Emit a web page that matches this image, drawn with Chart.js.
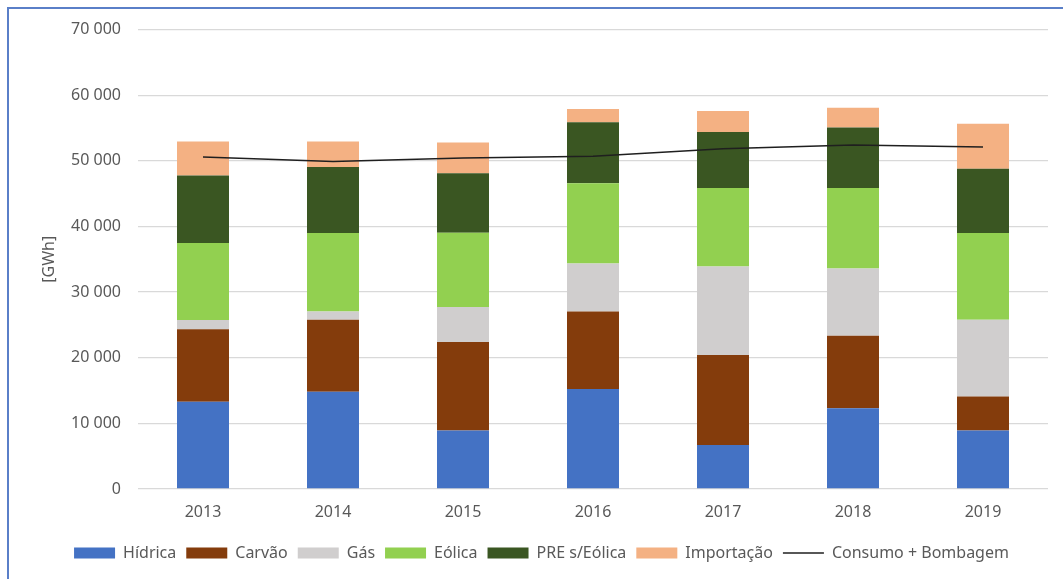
<!DOCTYPE html>
<html lang="pt">
<head>
    <meta charset="UTF-8">
    <title>Produção por fonte</title>
    <script src="https://cdn.jsdelivr.net/npm/chart.js"></script>
    <style>
        html, body {
            margin: 0;
            padding: 0;
            overflow: hidden;
            background: #fff;
        }
        #frame {
            position: absolute;
            left: 7px;
            top: 7px;
            width: 1054px;
            height: 570px;
            border-left: 2px solid #5a7fc8;
            border-top: 2px solid #5a7fc8;
        }
        /* y tick padding pushes the chart area down, pull the canvas back up */
        #energyChart {
            display: block;
            margin-top: -6px;
        }
    </style>
</head>
<body>
    <div id="frame">
        <canvas id="energyChart" width="1039" height="576"></canvas>
    </div>

    <script>
        // Valores (GWh)
        const years = ['2013', '2014', '2015', '2016', '2017', '2018', '2019'];
        const hidrica = [13300, 14800, 8900, 15250, 6700, 12300, 8900];
        const carvao = [11050, 11000, 13500, 11800, 13700, 11050, 5200];
        const gas = [1400, 1250, 5350, 7300, 13500, 10250, 11700];
        const eolica = [11750, 11950, 11300, 12250, 11950, 12250, 13200];
        const preSemEolica = [10250, 10050, 9050, 9300, 8550, 9250, 9800];
        const importacao = [5200, 3900, 4700, 2000, 3200, 3000, 6850];
        const consumoBombagem = [50600, 49900, 50450, 50700, 51850, 52400, 52100];

        const yTicks = [0, 10000, 20000, 30000, 40000, 50000, 60000, 70000];

        const tickColor = '#595959';
        const fontFamily = '"Noto Sans", "Open Sans", sans-serif';

        function bar(label, data, color) {
            return {
                type: 'bar',
                label: label,
                data: data,
                backgroundColor: color,
                borderWidth: 0,
                stack: 'fontes',
                barPercentage: 0.4,
                categoryPercentage: 1.0,
                order: 2
            };
        }

        function formatThousands(v) {
            return v.toString().replace(/\B(?=(\d{3})+(?!\d))/g, ' ');
        }

        const ctx = document.getElementById('energyChart').getContext('2d');

        new Chart(ctx, {
            data: {
                labels: years,
                datasets: [
                    bar('Hídrica', hidrica, '#4472C4'),
                    bar('Carvão', carvao, '#843C0C'),
                    bar('Gás', gas, '#D0CECE'),
                    bar('Eólica', eolica, '#92D050'),
                    bar('PRE s/Eólica', preSemEolica, '#3A5622'),
                    bar('Importação', importacao, '#F4B183'),
                    {
                        type: 'line',
                        label: 'Consumo + Bombagem',
                        data: consumoBombagem,
                        borderColor: '#1f1f1f',
                        backgroundColor: '#1f1f1f',
                        borderWidth: 1.5,
                        pointRadius: 0,
                        tension: 0,
                        stack: 'consumo',
                        order: 1
                    }
                ]
            },
            options: {
                responsive: false,
                animation: false,
                layout: {
                    padding: { left: 26, right: 0, top: 11, bottom: 8 }
                },
                scales: {
                    x: {
                        stacked: true,
                        grid: { display: false },
                        border: { display: false },
                        ticks: {
                            color: tickColor,
                            padding: 6,
                            font: { family: fontFamily, size: 16 }
                        },
                        afterFit: (scale) => { scale.height = 46; }
                    },
                    y: {
                        stacked: true,
                        min: 0,
                        max: 70000,
                        afterBuildTicks: (scale) => {
                            scale.ticks = yTicks.map(v => ({ value: v }));
                        },
                        grid: {
                            color: '#D9D9D9',
                            lineWidth: 1.3,
                            drawTicks: false
                        },
                        border: { display: false },
                        ticks: {
                            color: tickColor,
                            padding: 17,
                            font: { family: fontFamily, size: 16 },
                            callback: (v) => formatThousands(v)
                        },
                        title: {
                            display: true,
                            text: '[GWh]',
                            color: tickColor,
                            font: { family: fontFamily, size: 16 },
                            padding: { top: 5, bottom: 0 }
                        },
                        afterFit: (scale) => { scale.width = 103; }
                    }
                },
                plugins: {
                    legend: {
                        position: 'bottom',
                        labels: {
                            usePointStyle: true,
                            pointStyleWidth: 41,
                            boxHeight: 11,
                            padding: 10,
                            color: tickColor,
                            font: { family: fontFamily, size: 16 },
                            sort: (a, b) => a.datasetIndex - b.datasetIndex,
                            generateLabels: (chart) => {
                                const items = Chart.defaults.plugins.legend.labels.generateLabels(chart);
                                items.forEach(item => {
                                    const ds = chart.data.datasets[item.datasetIndex];
                                    item.pointStyle = ds.type === 'line' ? 'line' : 'rect';
                                });
                                return items;
                            }
                        }
                    },
                    tooltip: { enabled: false }
                }
            }
        });
    </script>
</body>
</html>
